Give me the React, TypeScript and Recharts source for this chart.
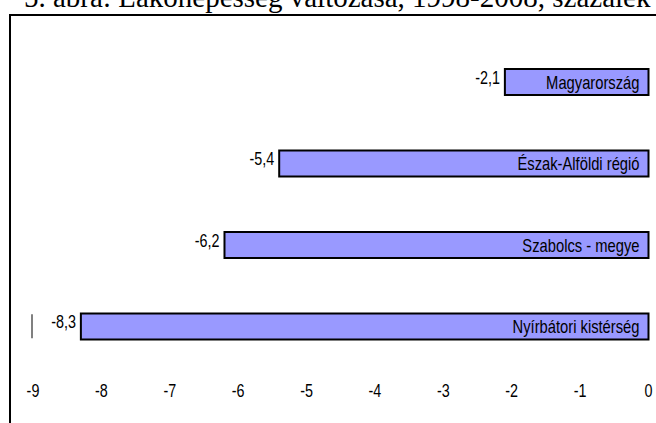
import React from 'react';
import { ComposedChart, Bar, XAxis, YAxis, LabelList, Scatter } from 'recharts';

const categories = ['Magyarország', 'Észak-Alföldi régió', 'Szabolcs - megye', 'Nyírbátori kistérség'];
const values = [-2.1, -5.4, -6.2, -8.3];
const xTicks = [-9, -8, -7, -6, -5, -4, -3, -2, -1, 0];
const markerCategory = 'Nyírbátori kistérség';
const markerValue = -9;
const title = '5. ábra: Lakónépesség változása, 1998-2008, százalék';

const data = categories.map((name, i) => ({ name, value: values[i] }));
const markerData = [{ name: markerCategory, value: markerValue }];

const FONT = '"Liberation Sans", Arial, sans-serif';
const SX = 0.82;

const fmt = (v: number) => String(v).replace('.', ',');

const Tick = (props: any) => {
  const { x, y, payload } = props;
  return (
    <text
      transform={`translate(${x},${y + 30}) scale(${SX},1)`}
      textAnchor="middle"
      fontFamily={FONT}
      fontSize={17.5}
      fill="#000"
    >
      {String(payload.value)}
    </text>
  );
};

const ValueLabel = (props: any) => {
  const { x, y, width, height, value } = props;
  const left = Math.min(x, x + width);
  const cy = y + height / 2;
  return (
    <text
      transform={`translate(${left - 5},${cy + 1.5}) scale(${SX},1)`}
      textAnchor="end"
      fontFamily={FONT}
      fontSize={17.5}
      fill="#000"
    >
      {fmt(value)}
    </text>
  );
};

const NameLabel = (props: any) => {
  const { x, y, width, height, value } = props;
  const right = Math.max(x, x + width);
  const cy = y + height / 2;
  return (
    <text
      transform={`translate(${right - 9},${cy + 6.5}) scale(${SX},1)`}
      textAnchor="end"
      fontFamily={FONT}
      fontSize={18}
      fill="#000"
    >
      {value}
    </text>
  );
};

const MarkerShape = (props: any) => {
  const { cx, cy } = props;
  if (cx == null || cy == null || isNaN(cx) || isNaN(cy)) return null;
  return <line x1={cx - 1} x2={cx - 1} y1={cy - 12} y2={cy + 12} stroke="#808080" strokeWidth={2} />;
};

export default function App() {
  return (
    <div style={{ position: 'absolute', left: 0, top: 0, width: 656, height: 423, overflow: 'hidden', background: '#fff' }}>
      <ComposedChart
        width={656}
        height={423}
        data={data}
        layout="vertical"
        margin={{ top: 41, right: 7.5, bottom: 26, left: 33 }}
        barSize={26}
      >
        <XAxis
          type="number"
          dataKey="value"
          domain={[-9, 0]}
          ticks={xTicks}
          interval={0}
          axisLine={false}
          tickLine={false}
          tickSize={0}
          tickMargin={0}
          height={30}
          tick={<Tick />}
        />
        <YAxis type="category" dataKey="name" hide width={0} allowDuplicatedCategory={false} />
        <Bar dataKey="value" fill="#9999FF" stroke="#000" strokeWidth={2} isAnimationActive={false}>
          <LabelList dataKey="value" content={<ValueLabel />} />
          <LabelList dataKey="name" content={<NameLabel />} />
        </Bar>
        <Scatter data={markerData} dataKey="value" shape={<MarkerShape />} isAnimationActive={false} />
      </ComposedChart>
      <svg width={656} height={423} style={{ position: 'absolute', left: 0, top: 0, pointerEvents: 'none' }}>
        <text x={24} y={7} fontFamily='"Liberation Serif", "Times New Roman", serif' fontSize={29} fill="#000">
          {title}
        </text>
        <polyline points="10,423 10,15 656,15" fill="none" stroke="#000" strokeWidth={2} />
      </svg>
    </div>
  );
}
